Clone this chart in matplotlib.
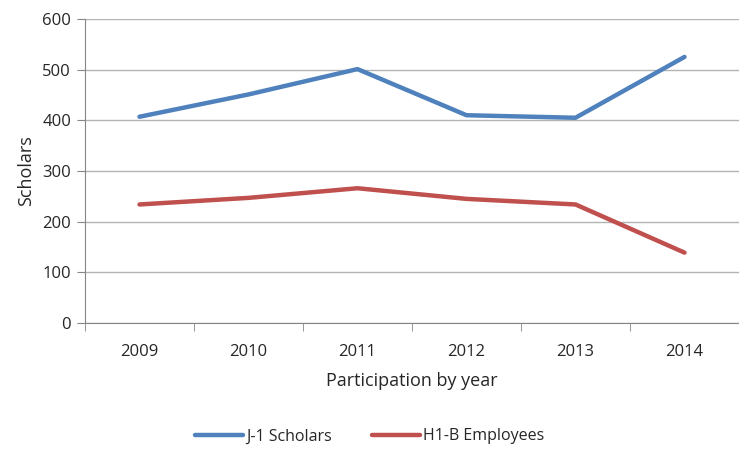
import numpy as np
import matplotlib.pyplot as plt

# Data
years = ['2009', '2010', '2011', '2012', '2013', '2014']
j1_scholars = [407, 451, 501, 410, 405, 525]
h1b_employees = [234, 247, 266, 245, 234, 139]

plt.rcParams['font.family'] = ['Open Sans', 'DejaVu Sans']
text_col = '#262626'
axis_col = '#868686'

fig = plt.figure(figsize=(7.39, 4.5), dpi=100)
ax = fig.add_axes([0.115, 0.282, 0.885, 0.676])

x = np.arange(len(years))
ax.plot(x, j1_scholars, color='#4F81BD', lw=3.2, label='J-1 Scholars', solid_capstyle='round')
ax.plot(x, h1b_employees, color='#C0504D', lw=3.2, label='H1-B Employees', solid_capstyle='round')

ax.set_xlim(-0.5, len(years) - 0.5)
ax.set_ylim(0, 600)
ax.set_yticks(range(0, 601, 100))
ax.set_xticks(x)
ax.set_xticklabels(years)
ax.set_xticks(np.arange(-0.5, len(years), 1), minor=True)

ax.grid(axis='y', color='#b3b3b3', lw=1)
ax.set_axisbelow(True)
for s in ['top', 'right']:
    ax.spines[s].set_visible(False)
for s in ['left', 'bottom']:
    ax.spines[s].set_color(axis_col)
ax.tick_params(axis='x', which='major', length=0, pad=15, labelsize=12, labelcolor=text_col)
ax.tick_params(axis='x', which='minor', length=6, color=axis_col, direction='out')
ax.tick_params(axis='y', length=6, color=axis_col, labelsize=12, labelcolor=text_col, pad=4)

ax.set_xlabel('Participation by year', fontsize=13, color=text_col, labelpad=9)
ax.set_ylabel('Scholars', fontsize=13, color=text_col, labelpad=5)

fig.legend(loc='center', bbox_to_anchor=(0.5, 0.03), ncol=2, frameon=False,
           fontsize=11.5, labelcolor=text_col, handlelength=3, columnspacing=2.5, handletextpad=0.2)

fig.savefig('out.png', dpi=100)
